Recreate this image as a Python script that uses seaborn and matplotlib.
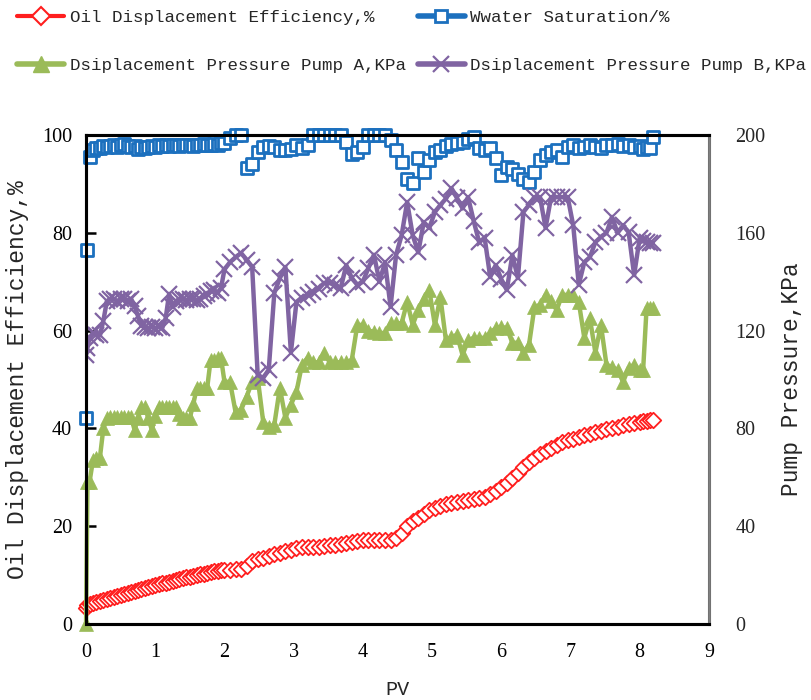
import matplotlib
matplotlib.use("Agg")
import matplotlib.pyplot as plt
from matplotlib.lines import Line2D
import seaborn as sns
import pandas as pd

# data
pv = [0.00, 0.02, 0.05, 0.10, 0.15, 0.20, 0.25, 0.30, 0.35, 0.40,
      0.45, 0.50, 0.55, 0.60, 0.65, 0.70, 0.75, 0.80, 0.85, 0.90,
      0.95, 1.00, 1.05, 1.10, 1.15, 1.20, 1.25, 1.30, 1.35, 1.40,
      1.45, 1.50, 1.55, 1.60, 1.65, 1.70, 1.75, 1.80, 1.85, 1.90,
      1.95, 2.00,
      2.08, 2.16, 2.24, 2.32, 2.40, 2.48, 2.56, 2.64, 2.72, 2.80,
      2.88, 2.96, 3.04, 3.12, 3.20, 3.28, 3.36, 3.44, 3.52, 3.60,
      3.68, 3.76, 3.84, 3.92, 4.00, 4.08, 4.16, 4.24, 4.32, 4.40,
      4.48, 4.56, 4.64, 4.72, 4.80, 4.88, 4.96, 5.04, 5.12, 5.20,
      5.28, 5.36, 5.44, 5.52, 5.60, 5.68, 5.76, 5.84, 5.92, 6.00,
      6.08, 6.16, 6.24, 6.32, 6.40, 6.48, 6.56, 6.64, 6.72, 6.80,
      6.88, 6.96, 7.04, 7.12, 7.20, 7.28, 7.36, 7.44, 7.52, 7.60,
      7.68, 7.76, 7.84, 7.92, 8.00, 8.05, 8.10, 8.15, 8.19]

oil_eff = [3.3, 3.8, 4.0, 4.3, 4.5, 4.7, 4.9, 5.1, 5.3, 5.5,
           5.7, 5.9, 6.1, 6.3, 6.5, 6.7, 6.9, 7.1, 7.3, 7.5,
           7.7, 7.9, 8.1, 8.3, 8.4, 8.6, 8.8, 9.0, 9.1, 9.3,
           9.5, 9.6, 9.8, 9.9, 10.1, 10.2, 10.4, 10.5, 10.7, 10.8,
           10.9, 11.0,
           11.0, 11.1, 11.2, 11.8, 12.8, 13.2, 13.5, 13.8, 14.2, 14.5,
           14.8, 15.1, 15.5, 15.7, 15.7, 15.7, 15.8, 16.0, 16.1, 16.2,
           16.4, 16.5, 16.7, 16.9, 17.1, 17.2, 17.2, 17.2, 17.2, 17.2,
           17.5, 18.5, 20.0, 21.0, 21.6, 22.4, 23.2, 23.7, 24.1, 24.4,
           24.7, 25.0, 25.1, 25.3, 25.5, 25.7, 26.0, 26.5, 27.1, 27.9,
           28.7, 29.8, 30.9, 32.0, 33.1, 34.0, 34.8, 35.4, 36.0, 36.6,
           37.1, 37.5, 37.9, 38.3, 38.6, 38.9, 39.2, 39.5, 39.8, 40.0,
           40.3, 40.6, 40.9, 41.1, 41.3, 41.4, 41.5, 41.6, 41.7]

water_sat = [42.0, 76.5, 95.5, 97.0, 97.3, 97.3, 97.8, 97.6, 97.8, 98.0,
             97.5, 98.0, 98.2, 97.8, 97.5, 97.8, 97.2, 97.5, 97.3, 97.6,
             97.8, 97.6, 97.9, 97.7, 98.0, 97.8, 97.9, 98.0, 97.8, 98.0,
             97.9, 98.0, 97.8, 98.0, 97.9, 98.1, 97.9, 98.0, 98.2, 98.0,
             98.3, 98.4,
             99.5, 100, 100, 93.2, 94.0, 96.5, 97.5, 97.8, 97.5, 97.0,
             97.0, 97.2, 98.0, 97.3, 98.0, 100, 100, 100, 100, 100,
             100, 98.6, 96.2, 96.5, 97.5, 100, 100, 100, 100, 99.0,
             97.0, 94.5, 91.0, 90.2, 95.3, 92.5, 95.0, 96.5, 97.0, 97.8,
             98.2, 98.4, 98.6, 99.2, 99.6, 97.3, 96.9, 97.3, 95.3, 91.8,
             93.5, 93.0, 92.0, 91.0, 90.5, 92.4, 95.0, 95.9, 96.5, 96.9,
             95.5, 97.5, 98.0, 97.3, 97.6, 98.0, 97.5, 97.3, 98.0, 98.0,
             98.2, 97.8, 98.0, 97.6, 97.8, 97.2, 97.6, 97.4, 99.6]

pump_a = [0, 58, 58, 67, 68, 68, 80, 84, 84.7, 84.7,
          84.7, 84.7, 84.7, 84.7, 84.7, 79.4, 84, 88.8, 88.8, 84,
          79.4, 85, 88.8, 88.8, 88.8, 88.8, 88.8, 88.8, 86, 84.3,
          84.3, 84.3, 90, 96.5, 96.5, 96.5, 96.5, 108, 108, 108.8,
          108.8, 99,
          99, 86.7, 87.5, 93, 99, 100.6, 82.6, 80.6, 81.4, 96.5,
          84.3, 89.6, 94.9, 106, 108.8, 107, 107, 111, 107, 107,
          107, 107, 108, 122.3, 122.3, 120, 119.4, 119, 119, 123,
          123, 123, 131.7, 122.3, 128.4, 133, 136.6, 122.3, 133.7, 116,
          117.4, 118.2, 110, 116, 117, 117, 117, 119, 121, 121.5,
          121, 115, 115, 111, 114, 129.7, 130.5, 134.6, 132, 128.4,
          134.6, 134.6, 134.6, 131.7, 117, 125, 111, 122.3, 106, 105,
          104, 99, 104.7, 106, 104, 104, 129.3, 129.3, 129.3]

pump_b = [110, 113, 117, 119, 118, 118, 124, 132, 133, 133,
          132, 133, 133, 132, 133, 130, 126, 122, 121.5, 121,
          121.5, 121, 121.5, 121, 125, 135, 129.7, 132, 133, 133,
          132.5, 133, 133, 132.5, 133, 134, 135, 136, 136.6, 135.5,
          137.4, 145,
          148, 150, 151.7, 149, 146, 101.8, 100.6, 104, 135.4, 141.5,
          146, 111, 131.7, 133.5, 134.6, 135.8, 137.0, 139.5, 139.5, 138.5,
          137.4, 146.8, 141.5, 138.7, 140, 145.6, 151, 140, 148, 129.7,
          151, 159, 172.6, 159, 152, 164.4, 162, 168.5, 171.4, 174,
          178.3, 174.2, 170, 174.6, 165, 156.2, 157.9, 141.9, 146.8, 141,
          136.6, 151, 141.5, 168.5, 171.4, 174.6, 174.6, 162, 174.6, 174.6,
          174.6, 174.6, 163, 138.7, 148, 150, 156.2, 158.3, 160, 166.5,
          160, 163, 160.3, 142.7, 157.9, 156.5, 156.2, 156, 155.8]

labels = ["Oil Displacement Efficiency,%", "Wwater Saturation/%",
          "Dsiplacement Pressure Pump A,KPa", "Dsiplacement Pressure Pump B,KPa"]

RED, BLUE, GREEN, PURPLE = "#FF1E1E", "#1C70BE", "#9BBB59", "#8064A2"
MONO = ["Liberation Mono", "DejaVu Sans Mono"]
SERIF = ["Liberation Serif", "DejaVu Serif"]

df = pd.DataFrame({"pv": pv, "oil": oil_eff, "water": water_sat,
                   "pa": pump_a, "pb": pump_b})

sns.set_style("white")
plt.rcParams["font.family"] = SERIF

fig = plt.figure(figsize=(8.12, 7.0), dpi=100)
ax = fig.add_axes([0.106, 0.109, 0.767, 0.698])
ax2 = ax.twinx()

# left axis: efficiency and water saturation (markers only)
sns.scatterplot(data=df, x="pv", y="oil", ax=ax, marker="D", s=62,
                color="white", edgecolor=RED, linewidth=1.3, zorder=3, clip_on=False)
sns.scatterplot(data=df, x="pv", y="water", ax=ax, marker="s", s=64,
                color="white", edgecolor=BLUE, linewidth=2.0, zorder=3, clip_on=False)

# right axis: pump pressures
sns.lineplot(data=df, x="pv", y="pa", ax=ax2, color=GREEN, lw=3.2, marker="^",
             markersize=10, mec=GREEN, mfc=GREEN, mew=0.5, errorbar=None,
             sort=False, clip_on=False)
sns.lineplot(data=df, x="pv", y="pb", ax=ax2, color=PURPLE, lw=3.2, marker="x",
             markersize=12, mec=PURPLE, mew=1.6, errorbar=None, sort=False)

ax.set_xlim(0, 9)
ax.set_ylim(0, 100)
ax2.set_ylim(0, 200)
ax.set_xticks(range(0, 10))
ax.set_yticks(range(0, 101, 20))
ax2.set_yticks(range(0, 201, 40))

for a in (ax, ax2):
    for s in a.spines.values():
        s.set_linewidth(2.2)
        s.set_color("black")
ax2.spines["right"].set_color("#808080")
ax2.spines["right"].set_linewidth(2.0)

ax.tick_params(axis="both", direction="in", length=7, width=1.8, labelsize=14.5,
               colors="black")
ax.tick_params(axis="y", pad=10)
ax.tick_params(axis="x", pad=14)
ax2.tick_params(axis="y", length=0, labelsize=14.5, pad=19)

ax.set_xlabel("PV", fontsize=14.5, family=MONO)
ax.set_ylabel(labels[0], fontsize=16.5, family=MONO)
ax2.set_ylabel("Pump Pressure,KPa", fontsize=16.5, family=MONO)
ax.xaxis.set_label_coords(0.5, -0.116)
ax.yaxis.set_label_coords(-0.092, 0.5)
ax2.yaxis.set_label_coords(1.114, 0.5)

handles = [
    Line2D([], [], color=RED, lw=3, marker="D", markersize=9, mfc="white", mec=RED, mew=1.5),
    Line2D([], [], color=GREEN, lw=4, marker="^", markersize=11, mfc=GREEN, mec=GREEN),
    Line2D([], [], color=BLUE, lw=4, marker="s", markersize=9, mfc="white", mec=BLUE, mew=2),
    Line2D([], [], color=PURPLE, lw=4, marker="x", markersize=12, mec=PURPLE, mew=1.6),
]
fig.legend(handles, [labels[0], labels[2], labels[1], labels[3]], ncol=2,
           loc="upper left", bbox_to_anchor=(0.006, 1.003), frameon=False,
           prop={"family": MONO, "size": 12.6}, handlelength=2.7,
           handletextpad=0.3, columnspacing=0.7, labelspacing=1.85, borderpad=0.2)

fig.savefig("out.png", dpi=100)
